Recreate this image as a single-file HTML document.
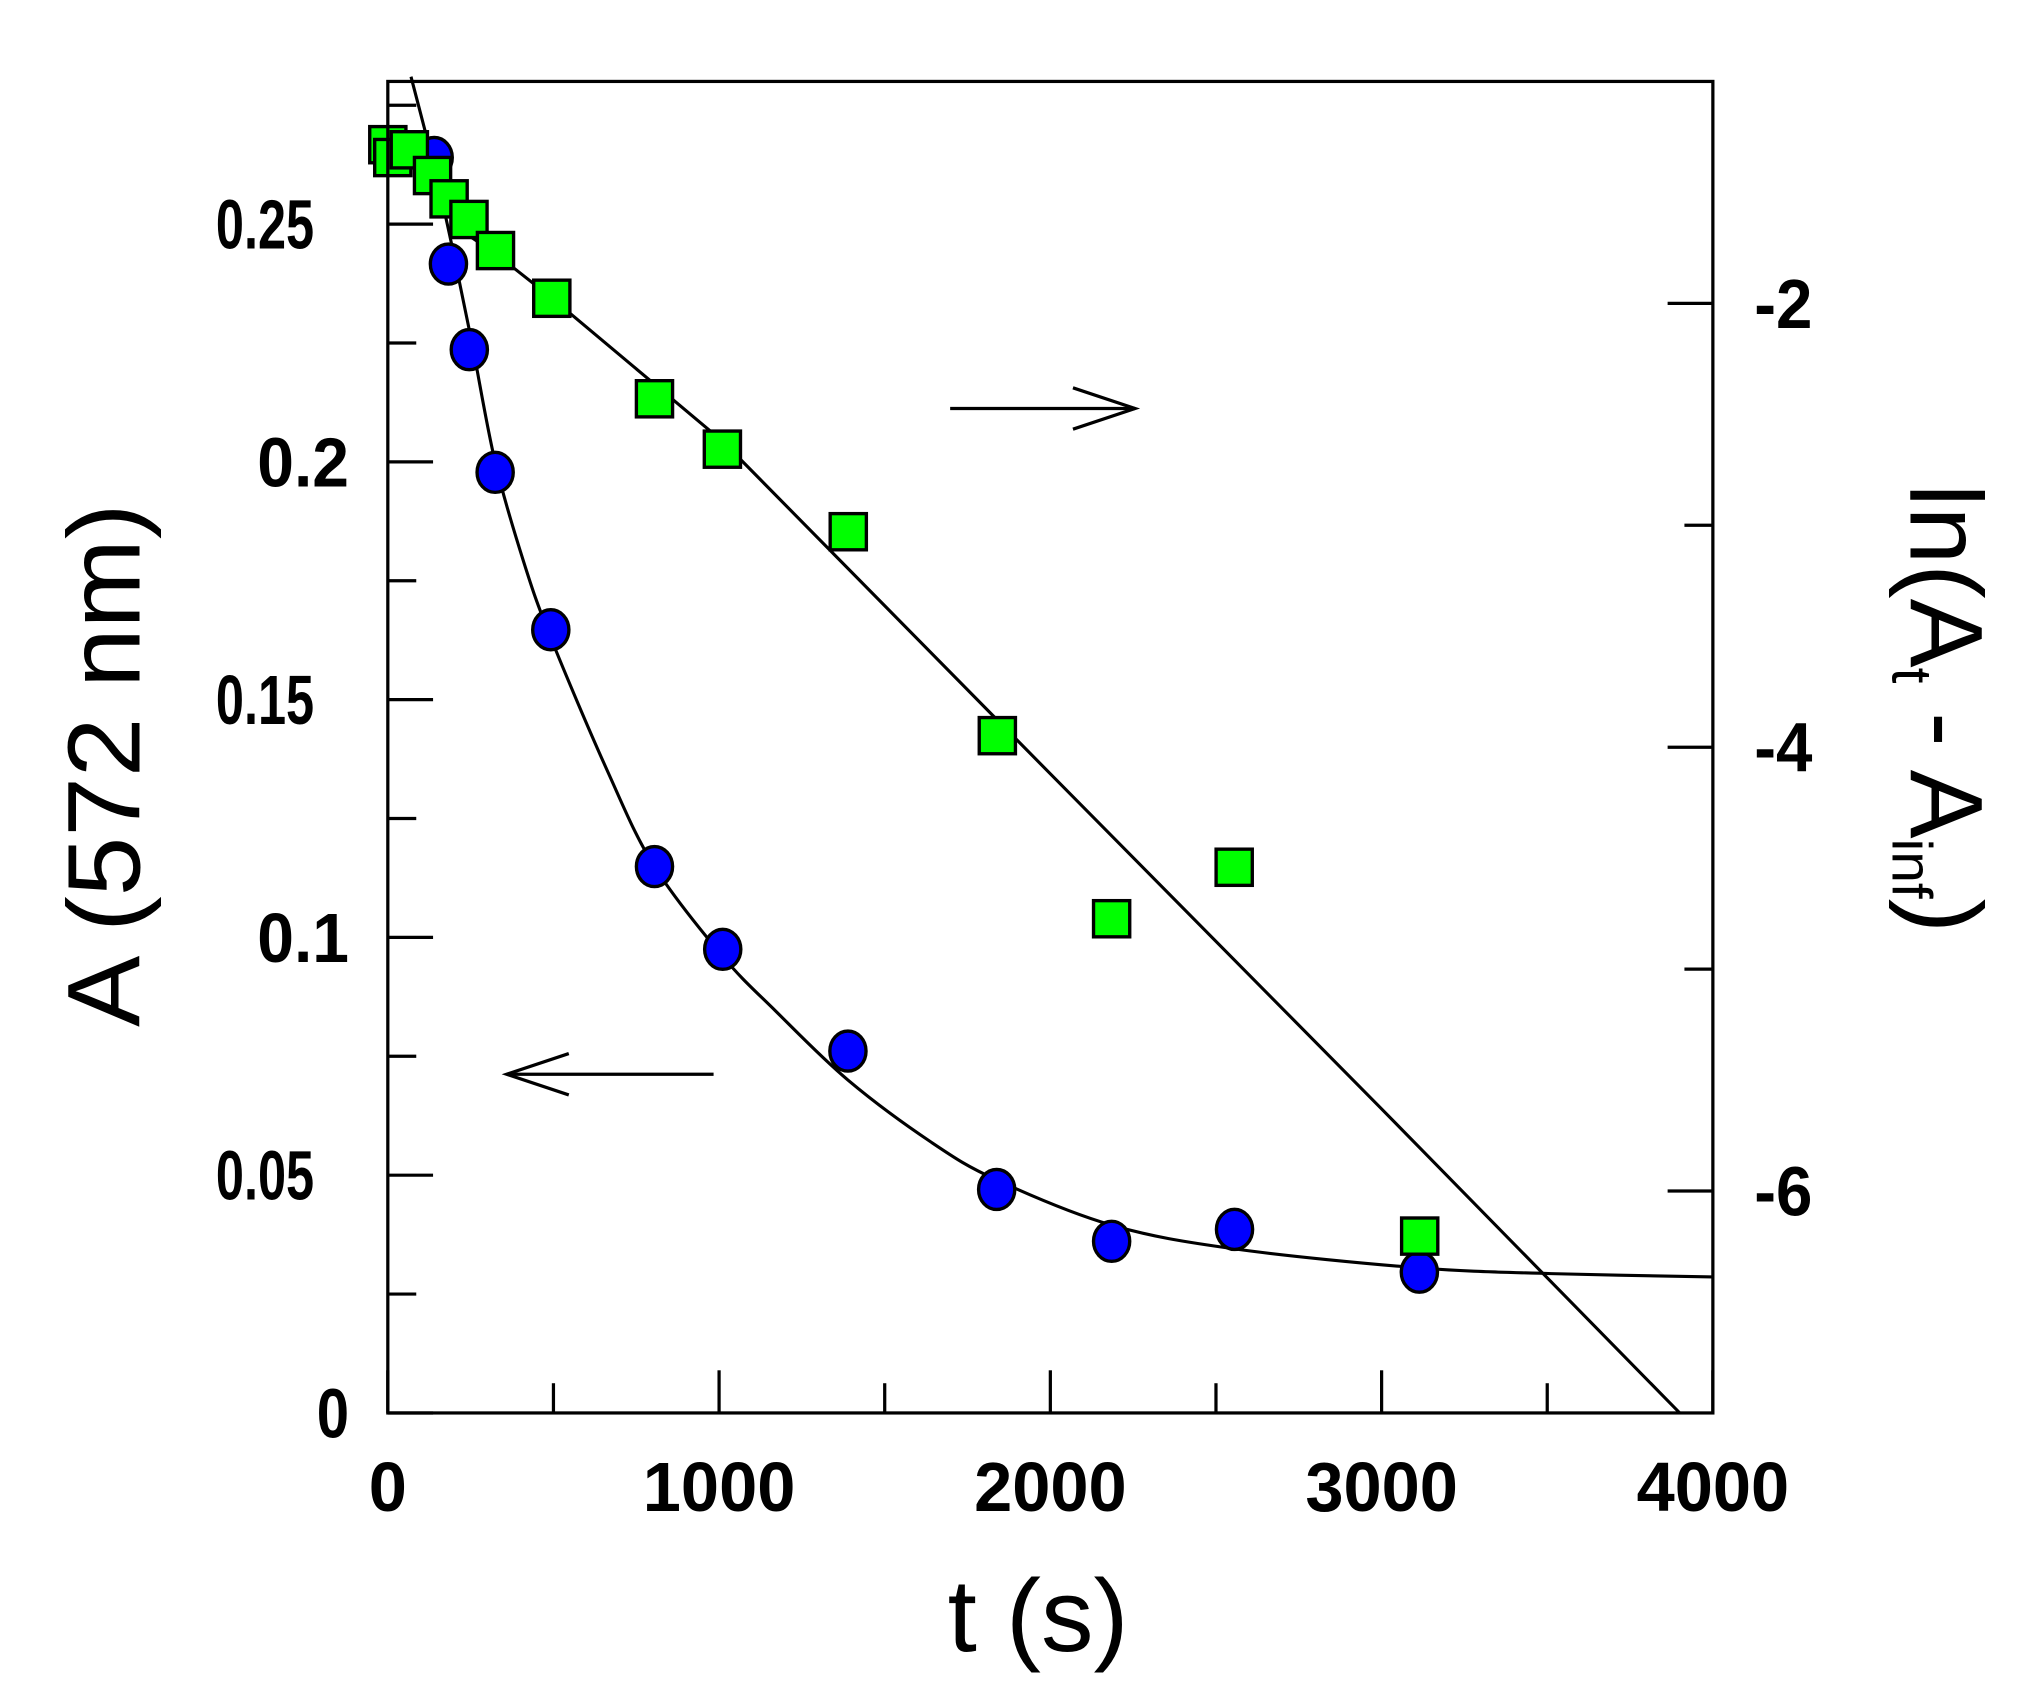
<!DOCTYPE html>
<html><head><meta charset="utf-8"><style>
html,body{margin:0;padding:0;background:#fff;width:2027px;height:1698px;overflow:hidden}
svg{display:block}
text{font-family:"Liberation Sans",Arial,sans-serif;fill:#000}
</style></head><body>
<svg id="chart" width="2027" height="1698" viewBox="0 0 1568 1313.5" preserveAspectRatio="none" xmlns="http://www.w3.org/2000/svg">
<g id="fits"></g>
<g id="marks"></g>
<g id="axes"></g>
<g stroke="#000" stroke-width="2.5" fill="none">
  <line x1="735" y1="316" x2="878" y2="316"/><polyline points="830,300 878,316 830,332"/>
</g>
<g stroke="#000" stroke-width="2.5" fill="none">
  <line x1="552" y1="831" x2="392" y2="831"/><polyline points="440,815 392,831 440,847"/>
</g>
<text x="803" y="1277" font-size="80" text-anchor="middle" textLength="140" lengthAdjust="spacingAndGlyphs">t (s)</text>
<text transform="translate(108,592) rotate(-90)" font-size="80" text-anchor="middle" textLength="405" lengthAdjust="spacingAndGlyphs">A (572 nm)</text>
<text transform="translate(1478,548) rotate(90)" font-size="80" text-anchor="middle">ln(A<tspan font-size="44" dy="14">t</tspan><tspan dy="-14"> - A</tspan><tspan font-size="44" dy="14">inf</tspan><tspan dy="-14">)</tspan></text>
</svg>
<script>
// x axis (s)
const xTickValues = [0, 1000, 2000, 3000, 4000];
const xTickLabels = ["0", "1000", "2000", "3000", "4000"];
const xMinorValues = [500, 1500, 2500, 3500];
// left axis A
const yLeftTickValues = [0, 0.05, 0.1, 0.15, 0.2, 0.25];
const yLeftTickLabels = ["0", "0.05", "0.1", "0.15", "0.2", "0.25"];
const yLeftMinorValues = [0.025, 0.075, 0.125, 0.175, 0.225, 0.275];
// right axis ln
const yRightTickValues = [-6, -4, -2];
const yRightTickLabels = ["-6", "-4", "-2"];
const yRightMinorValues = [-5, -3];
// absorbance data (circles)
const absTimes = [140, 183, 246, 324, 492, 805, 1011, 1389, 1838, 2185, 2556, 3114];
const absValues = [0.264, 0.2416, 0.2236, 0.1978, 0.1647, 0.1149, 0.0975, 0.0761, 0.047, 0.0361, 0.0386, 0.0296];
// ln data (squares)
const lnTimes = [0, 15, 65, 135, 185, 245, 325, 495, 805, 1010, 1390, 1840, 2185, 2555, 3115];
const lnValues = [-1.285, -1.343, -1.308, -1.424, -1.529, -1.622, -1.762, -1.977, -2.43, -2.657, -3.029, -3.948, -4.773, -4.541, -6.203];
// fitted curves
const absFitTimes = [70, 140, 195, 254, 324, 410, 492, 663, 804, 1011, 1171, 1389, 1639, 1838, 2185, 2556, 3114, 3512, 4000];
const absFitValues = [0.281, 0.262, 0.245, 0.225, 0.2, 0.179, 0.163, 0.135, 0.115, 0.096, 0.0845, 0.07, 0.057, 0.049, 0.0395, 0.0345, 0.0305, 0.0293, 0.0286];
const lnFitTimes = [250, 328, 496, 1011, 2000, 3000, 3900];
const lnFitValues = [-1.70, -1.779, -1.977, -2.622, -4.12, -5.63, -7.0];

const L = 300, R = 1325, T = 63, B = 1093;
const X0 = 0, X1 = 4000, YL0 = 0, YL1 = 0.28, YR0 = -7, YR1 = -1;
const xs = v => L + (v - X0) / (X1 - X0) * (R - L);
const yl = v => B - (v - YL0) / (YL1 - YL0) * (B - T);
const yr = v => B - (v - YR0) / (YR1 - YR0) * (B - T);
const NS = "http://www.w3.org/2000/svg";
function mk(tag, attrs, parent) {
  const e = document.createElementNS(NS, tag);
  for (const k in attrs) e.setAttribute(k, attrs[k]);
  parent.appendChild(e);
  return e;
}
function smoothPath(pts) {
  let d = 'M' + pts[0][0] + ',' + pts[0][1];
  for (let i = 0; i < pts.length - 1; i++) {
    const p0 = pts[Math.max(0, i - 1)], p1 = pts[i], p2 = pts[i + 1], p3 = pts[Math.min(pts.length - 1, i + 2)];
    const c1x = p1[0] + (p2[0] - p0[0]) / 6, c1y = p1[1] + (p2[1] - p0[1]) / 6;
    const c2x = p2[0] - (p3[0] - p1[0]) / 6, c2y = p2[1] - (p3[1] - p1[1]) / 6;
    d += ' C' + c1x + ',' + c1y + ' ' + c2x + ',' + c2y + ' ' + p2[0] + ',' + p2[1];
  }
  return d;
}
const axes = document.getElementById('axes');
const marks = document.getElementById('marks');
const fits = document.getElementById('fits');

const frame = mk('rect', {x: L, y: T, width: R - L, height: B - T, fill: 'none', stroke: '#000', 'stroke-width': 2.5}, axes);



function lbl(txt, x, y, anchor, len) {
  const lb = mk('text', {x: x, y: y, 'font-size': 54, 'font-weight': 'bold', 'text-anchor': anchor, textLength: len, lengthAdjust: 'spacingAndGlyphs'}, axes);
  lb.textContent = txt;
  return lb;
}
xTickValues.forEach((v, i) => {
  const x = xs(v);
  const t = mk('line', {x1: x, x2: x, y1: B, y2: B - 33, stroke: '#000', 'stroke-width': 2.5}, axes);
  
  
  const s = xTickLabels[i];
  const lb = lbl(s, x, 1169, 'middle', s.length * 29.5);
  
  
});
xMinorValues.forEach(v => {
  const x = xs(v);
  const t = mk('line', {x1: x, x2: x, y1: B, y2: B - 23, stroke: '#000', 'stroke-width': 2.5}, axes);
  
  
});
yLeftTickValues.forEach((v, i) => {
  const y = yl(v);
  const t = mk('line', {x1: L, x2: L + 35, y1: y, y2: y, stroke: '#000', 'stroke-width': 2.5}, axes);
  
  
  const s = yLeftTickLabels[i];
  const rx = s.length === 4 ? 243 : 270;
  const len = s.length === 4 ? 76 : (s.length === 3 ? 71 : 25);
  const lb = lbl(s, rx, y + 19, 'end', len);
  
  
});
yLeftMinorValues.forEach(v => {
  const y = yl(v);
  const t = mk('line', {x1: L, x2: L + 22, y1: y, y2: y, stroke: '#000', 'stroke-width': 2.5}, axes);
  
  
});
yRightTickValues.forEach((v, i) => {
  const y = yr(v);
  const t = mk('line', {x1: R, x2: R - 35, y1: y, y2: y, stroke: '#000', 'stroke-width': 2.5}, axes);
  
  
  const lb = lbl(yRightTickLabels[i], 1357, y + 19, 'start', 45);
  
  
});
yRightMinorValues.forEach(v => {
  const y = yr(v);
  const t = mk('line', {x1: R, x2: R - 22, y1: y, y2: y, stroke: '#000', 'stroke-width': 2.5}, axes);
  
  
});

const absLine = mk('path', {d: smoothPath(absFitTimes.map((t, i) => [xs(t), yl(absFitValues[i])])), fill: 'none', stroke: '#000', 'stroke-width': 2.4}, fits);


const lnLine = mk('polyline', {points: lnFitTimes.map((t, i) => xs(t) + ',' + yr(lnFitValues[i])).join(' '), fill: 'none', stroke: '#000', 'stroke-width': 2.4, 'stroke-linejoin': 'round'}, fits);



absTimes.forEach((t, i) => {
  const c = mk('ellipse', {cx: xs(t), cy: yl(absValues[i]), rx: 14, ry: 15.5, fill: '#0000ff', stroke: '#000', 'stroke-width': 2.6}, marks);
  
  
});
lnTimes.forEach((t, i) => {
  const s = 28;
  const r = mk('rect', {x: xs(t) - s / 2, y: yr(lnValues[i]) - s / 2, width: s, height: s, fill: '#00ff00', stroke: '#000', 'stroke-width': 2.6}, marks);
  
  
});
</script>
</body></html>
